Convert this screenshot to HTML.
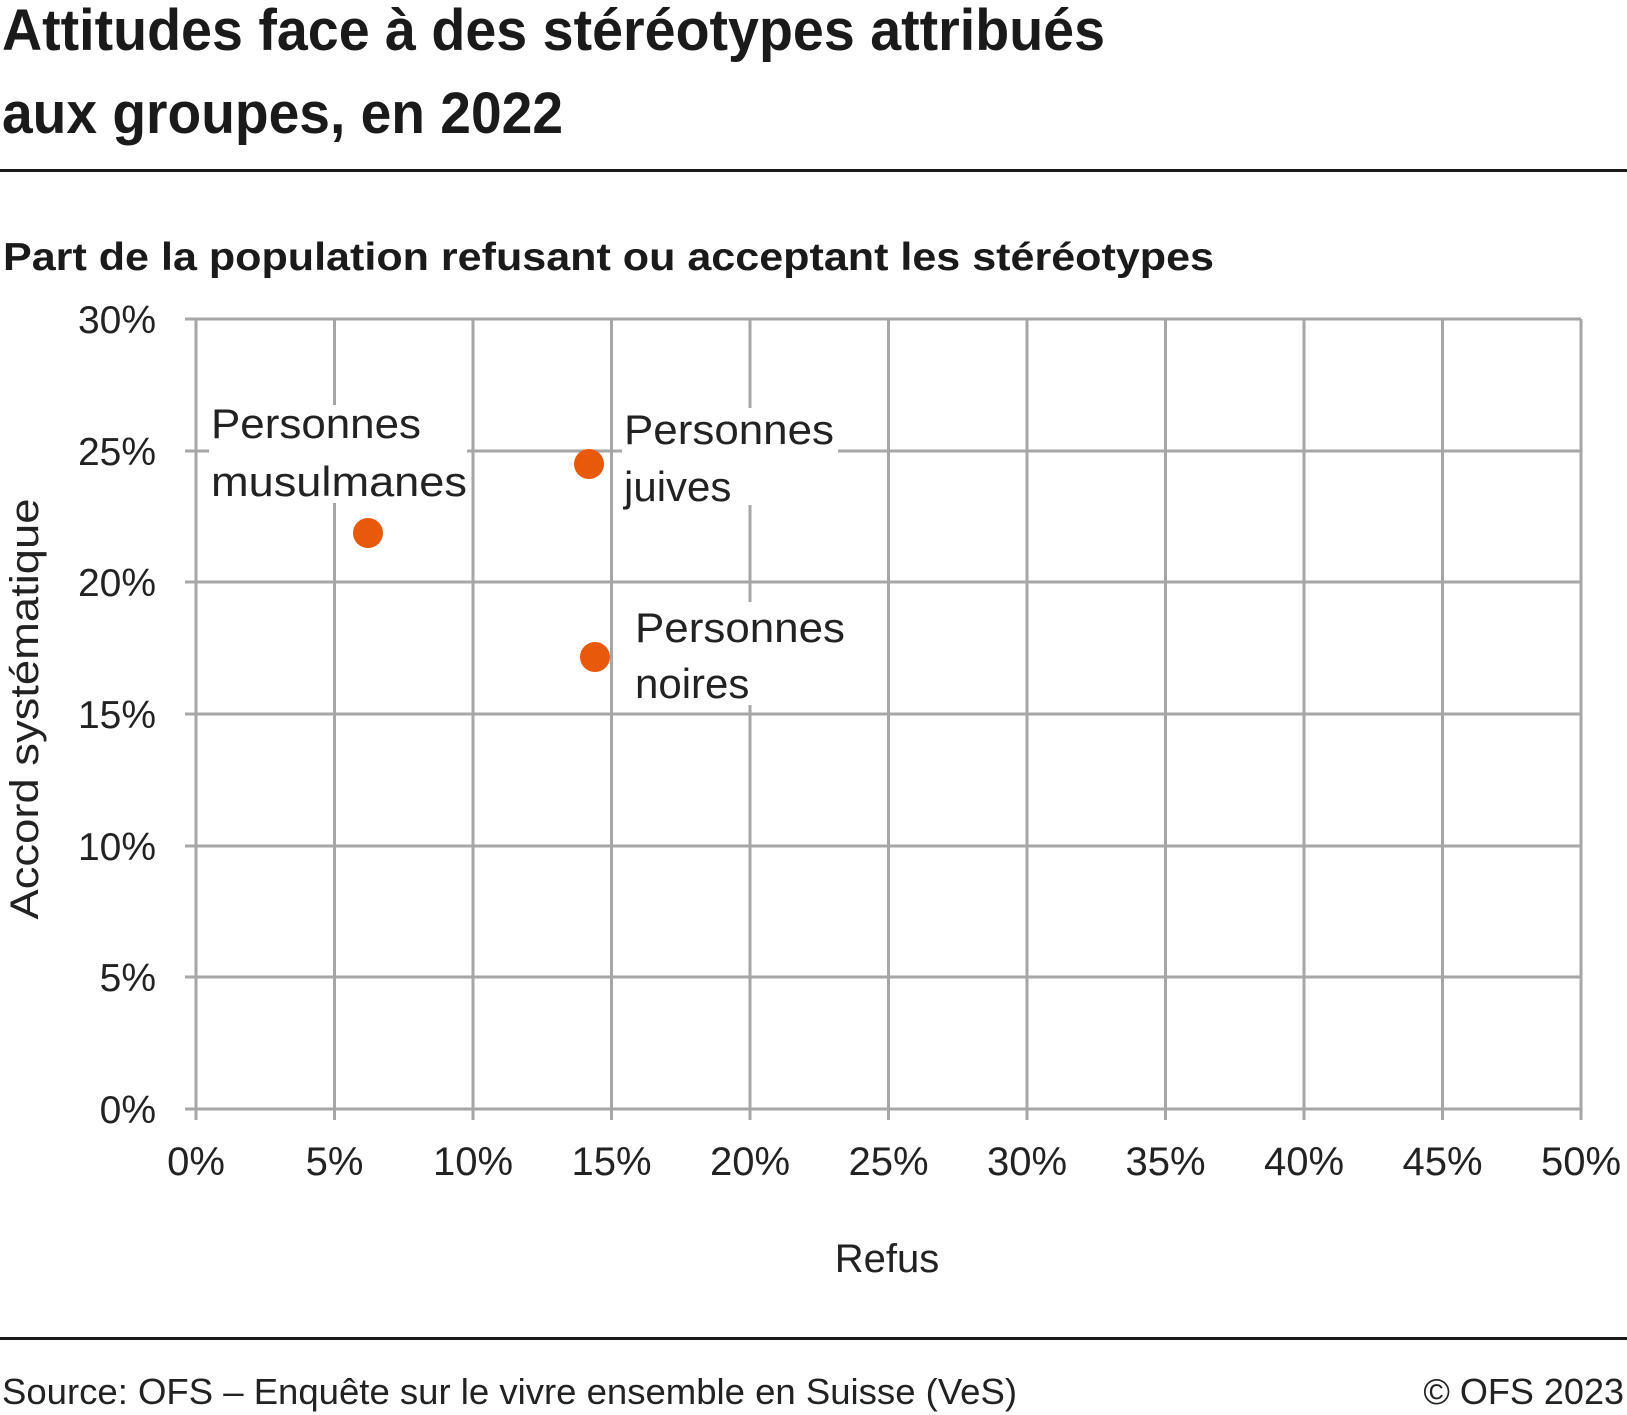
<!DOCTYPE html>
<html><head><meta charset="utf-8"><style>
html,body{margin:0;padding:0;background:#fff;}
svg{display:block;font-family:"Liberation Sans",sans-serif;}
</style></head><body>
<svg width="1627" height="1415" viewBox="0 0 1627 1415" xmlns="http://www.w3.org/2000/svg">
<text x="2" y="50" font-size="58" font-weight="bold" fill="#1a1a1a" textLength="1103" lengthAdjust="spacingAndGlyphs">Attitudes face à des stéréotypes attribués</text>
<text x="2" y="133" font-size="58" font-weight="bold" fill="#1a1a1a" textLength="561" lengthAdjust="spacingAndGlyphs">aux groupes, en 2022</text>
<rect x="0" y="169" width="1627" height="3" fill="#1a1a1a"/>
<text x="3" y="270" font-size="39" font-weight="bold" fill="#1a1a1a" textLength="1211" lengthAdjust="spacingAndGlyphs">Part de la population refusant ou acceptant les stéréotypes</text>
<g stroke="#a6a6a6" stroke-width="3" fill="none">
<line x1="185" y1="319" x2="1581" y2="319"/>
<line x1="185" y1="451" x2="1581" y2="451"/>
<line x1="185" y1="582" x2="1581" y2="582"/>
<line x1="185" y1="714" x2="1581" y2="714"/>
<line x1="185" y1="846" x2="1581" y2="846"/>
<line x1="185" y1="977" x2="1581" y2="977"/>
<line x1="185" y1="1109" x2="1581" y2="1109"/>
<line x1="196" y1="319" x2="196" y2="1120"/>
<line x1="334.5" y1="319" x2="334.5" y2="1120"/>
<line x1="473" y1="319" x2="473" y2="1120"/>
<line x1="611.5" y1="319" x2="611.5" y2="1120"/>
<line x1="750" y1="319" x2="750" y2="1120"/>
<line x1="888.5" y1="319" x2="888.5" y2="1120"/>
<line x1="1027" y1="319" x2="1027" y2="1120"/>
<line x1="1165.5" y1="319" x2="1165.5" y2="1120"/>
<line x1="1304" y1="319" x2="1304" y2="1120"/>
<line x1="1442.5" y1="319" x2="1442.5" y2="1120"/>
<line x1="1581" y1="319" x2="1581" y2="1120"/>
</g>
<g font-size="39" fill="#222" text-anchor="end">
<text x="156" y="333">30%</text>
<text x="156" y="465">25%</text>
<text x="156" y="596">20%</text>
<text x="156" y="728">15%</text>
<text x="156" y="860">10%</text>
<text x="156" y="991">5%</text>
<text x="156" y="1123">0%</text>
</g>
<g font-size="40" fill="#222" text-anchor="middle">
<text x="196" y="1175">0%</text>
<text x="334.5" y="1175">5%</text>
<text x="473" y="1175">10%</text>
<text x="611.5" y="1175">15%</text>
<text x="750" y="1175">20%</text>
<text x="888.5" y="1175">25%</text>
<text x="1027" y="1175">30%</text>
<text x="1165.5" y="1175">35%</text>
<text x="1304" y="1175">40%</text>
<text x="1442.5" y="1175">45%</text>
<text x="1581" y="1175">50%</text>
<text x="887" y="1272">Refus</text>
</g>
<text transform="translate(38,709) rotate(-90)" font-size="40" fill="#222" text-anchor="middle" textLength="421" lengthAdjust="spacingAndGlyphs">Accord systématique</text>
<g fill="#fff">
<rect x="209" y="405" width="258" height="98"/>
<rect x="622" y="408" width="216" height="97"/>
<rect x="628" y="602" width="220" height="103"/>
</g>
<g font-size="42" fill="#222">
<text x="211" y="438" textLength="210" lengthAdjust="spacingAndGlyphs">Personnes</text>
<text x="211" y="496" textLength="256" lengthAdjust="spacingAndGlyphs">musulmanes</text>
<text x="624" y="444" textLength="210" lengthAdjust="spacingAndGlyphs">Personnes</text>
<text x="624" y="501">juives</text>
<text x="635" y="642" textLength="210" lengthAdjust="spacingAndGlyphs">Personnes</text>
<text x="635" y="698">noires</text>
</g>
<g fill="#e8590c">
<circle cx="368" cy="533" r="15"/>
<circle cx="589" cy="464" r="15"/>
<circle cx="595" cy="657" r="15"/>
</g>
<rect x="0" y="1337" width="1627" height="3" fill="#1a1a1a"/>
<text x="2" y="1404" font-size="36" fill="#222" textLength="1015" lengthAdjust="spacingAndGlyphs">Source: OFS – Enquête sur le vivre ensemble en Suisse (VeS)</text>
<text x="1624" y="1404" font-size="36" fill="#222" text-anchor="end">© OFS 2023</text>
</svg>
</body></html>
